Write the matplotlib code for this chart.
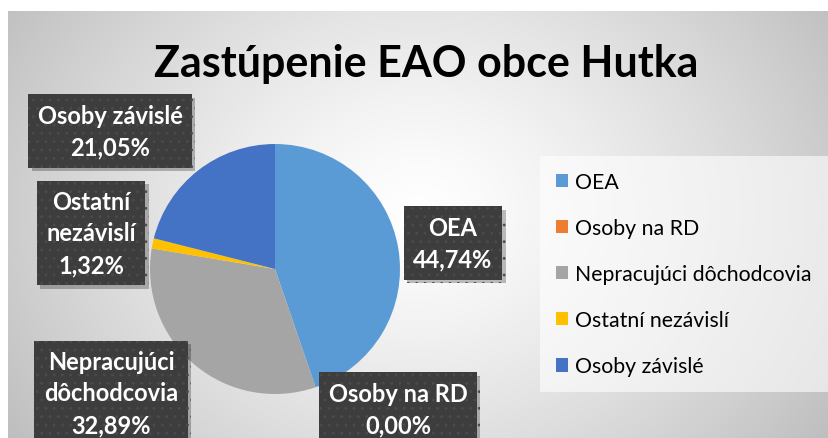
import matplotlib
matplotlib.use("Agg")
import matplotlib.pyplot as plt
import matplotlib.patheffects as pe
import numpy as np

categories = ["OEA", "Osoby na RD", "Nepracujúci dôchodcovia", "Ostatní nezávislí", "Osoby závislé"]
counts = [34, 0, 25, 1, 16]
colors = ["#5B9BD5", "#ED7D31", "#A5A5A5", "#FFC000", "#4472C4"]
# label text with line breaks as in the picture
label_names = ["OEA", "Osoby na RD", "Nepracujúci\ndôchodcovia", "Ostatní\nnezávislí", "Osoby závislé"]

W, H = 829, 439
plt.rcParams['font.family'] = ['Lato', 'DejaVu Sans']
plt.rcParams['hatch.linewidth'] = 0.8

fig = plt.figure(figsize=(W / 100, H / 100), dpi=100)
fig.patch.set_facecolor("white")

# background with radial gradient
bg = fig.add_axes([8 / W, 0, 1 - 8 / W, (H - 12) / H])
yy, xx = np.mgrid[0:427, 0:821]
cx, cy = 410, 200
d = np.sqrt(((xx - cx) / 520.0) ** 2 + ((yy - cy) / 420.0) ** 2)
g = 1.0 - 0.27 * np.clip(d, 0, 1) ** 1.3
bg.imshow(np.dstack([g, g, g]), aspect="auto", extent=[0, 1, 0, 1], origin="upper")
bg.set_axis_off()

# pie
r = 125
cxp, cyp = 275, 270
ax = fig.add_axes([(cxp - r) / W, (H - cyp - r) / H, 2 * r / W, 2 * r / H])
wedges, _ = ax.pie(counts, colors=colors, startangle=90, counterclock=False,
                   radius=1, wedgeprops=dict(linewidth=0))
ax.set_xlim(-1, 1)
ax.set_ylim(-1, 1)
ax.set_axis_off()

fig.text(426 / W, 1 - 64 / H, "Zastúpenie EAO obce Hutka", ha="center", va="center",
         fontsize=31, fontweight="bold", color="black")

total = sum(counts)
label_pos = [(453, 244), (398, 410), (111, 394), (91, 234), (110, 132)]
for name, c, (px, py) in zip(label_names, counts, label_pos):
    pct = f"{100 * c / total:.2f}".replace(".", ",") + "%"
    t = fig.text(px / W, 1 - py / H, f"{name}\n{pct}", ha="center", va="center",
                 fontsize=17, fontweight="bold", color="white", linespacing=1.45,
                 bbox=dict(boxstyle="square,pad=0.4", facecolor="#3d3d3d",
                           edgecolor="#4b4b4b", linewidth=0, hatch=".."))
    t.get_bbox_patch().set_path_effects(
        [pe.SimplePatchShadow(offset=(2.5, -2.5), shadow_rgbFace="black", alpha=0.25),
         pe.Normal()])

leg = fig.legend(wedges, categories, loc="upper left",
                 bbox_to_anchor=(540 / W, 1 - 157 / H), fontsize=15.3,
                 frameon=True, fancybox=False, handlelength=0.57, handleheight=0.57,
                 handletextpad=0.35, labelspacing=1.23, borderpad=0.75,
                 borderaxespad=0)
leg.get_frame().set_facecolor("white")
leg.get_frame().set_alpha(0.6)
leg.get_frame().set_linewidth(0)

fig.savefig("out.png", dpi=100, facecolor=fig.get_facecolor())
